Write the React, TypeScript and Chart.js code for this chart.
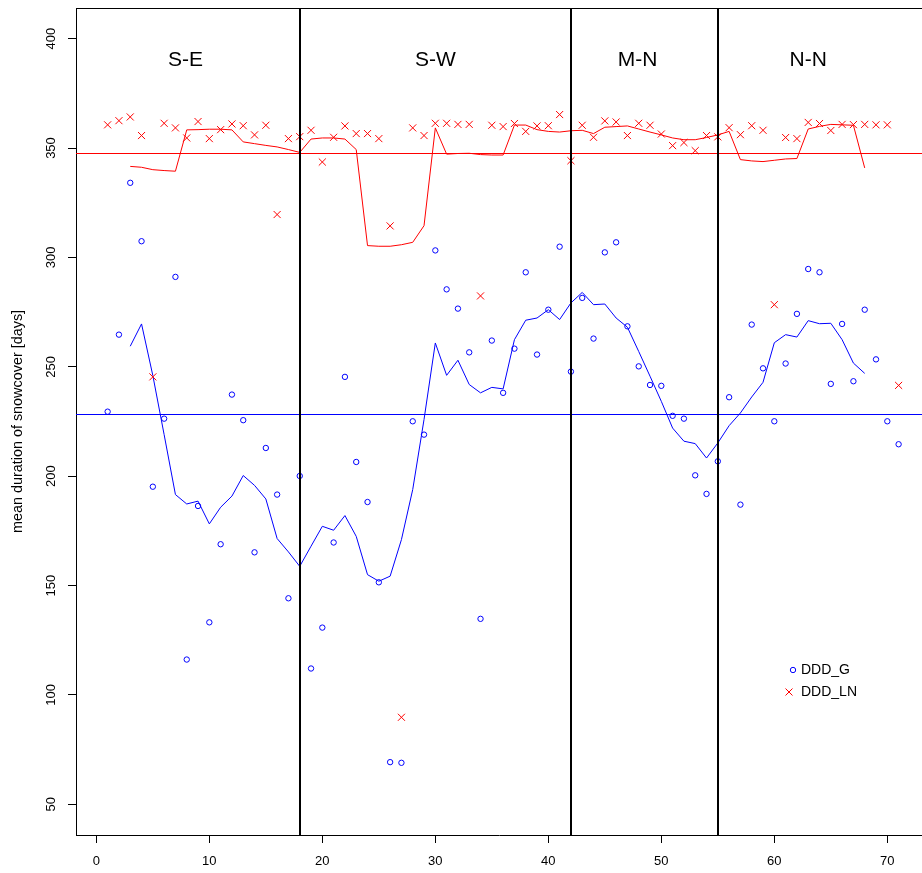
import React, { useEffect, useRef } from 'react';
import { Chart, registerables } from 'chart.js';

Chart.register(...registerables);

// Station index (x)
const stations = [
  1, 2, 3, 4, 5, 6, 7, 8, 9, 10, 11, 12, 13, 14, 15, 16, 17, 18, 19, 20,
  21, 22, 23, 24, 25, 26, 27, 28, 29, 30, 31, 32, 33, 34, 35, 36, 37, 38, 39, 40,
  41, 42, 43, 44, 45, 46, 47, 48, 49, 50, 51, 52, 53, 54, 55, 56, 57, 58, 59, 60,
  61, 62, 63, 64, 65, 66, 67, 68, 69, 70, 71,
];

// DDD_G values (blue circles)
const dddG = [
  229.5, 264.7, 334.1, 307.4, 195.2, 226.3, 291.1, 116.2, 186.4, 133.2,
  168.9, 237.3, 225.6, 165.2, 212.9, 191.6, 144.2, 200.1, 112.1, 130.8,
  169.7, 245.4, 206.5, 188.2, 151.5, 69.3, 69.0, 225.1, 219.0, 303.2,
  285.4, 276.6, 256.6, 134.8, 262.0, 238.1, 258.3, 293.2, 255.6, 276.1,
  304.9, 247.8, 281.5, 262.9, 302.3, 306.9, 268.5, 250.2, 241.7, 241.3,
  227.6, 226.3, 200.4, 191.9, 206.8, 236.1, 187.0, 269.3, 249.3, 225.1,
  251.5, 274.2, 294.7, 293.2, 242.2, 269.6, 243.4, 276.1, 253.4, 225.1,
  214.6,
];

// DDD_LN values (red crosses)
const dddLN = [
  360.6, 362.5, 364.2, 355.7, 245.4, 361.3, 359.2, 354.6, 362.1, 354.3,
  358.4, 361.0, 360.2, 356.0, 360.4, 319.6, 354.3, 355.2, 358.1, 343.6,
  354.9, 360.1, 356.6, 356.6, 354.3, 314.4, 89.8, 359.2, 355.7, 361.3,
  361.3, 360.8, 360.8, 282.4, 360.4, 359.8, 361.2, 357.6, 360.1, 360.2,
  365.3, 344.2, 360.4, 354.9, 362.4, 361.9, 355.7, 361.3, 360.4, 356.4,
  351.1, 352.5, 348.8, 355.7, 355.1, 359.3, 356.1, 360.2, 358.1, 278.4,
  354.8, 354.3, 361.7, 361.2, 358.0, 360.8, 360.7, 360.8, 360.6, 360.6,
  241.5,
];

// Smoothed curves, stations 3..68
const smoothStations = [
  3, 4, 5, 6, 7, 8, 9, 10, 11, 12, 13, 14, 15, 16, 17, 18, 19, 20, 21, 22,
  23, 24, 25, 26, 27, 28, 29, 30, 31, 32, 33, 34, 35, 36, 37, 38, 39, 40, 41, 42,
  43, 44, 45, 46, 47, 48, 49, 50, 51, 52, 53, 54, 55, 56, 57, 58, 59, 60, 61, 62,
  63, 64, 65, 66, 67, 68,
];

const smoothG = [
  259.4, 269.6, 246.0, 219.0, 191.6, 187.3, 188.6, 178.2, 185.8, 190.9,
  200.3, 195.8, 189.6, 171.5, 165.4, 158.8, 168.0, 177.1, 175.3, 182.0,
  172.5, 155.0, 152.0, 154.3, 171.0, 193.9, 225.9, 260.9, 246.1, 253.0,
  241.9, 238.1, 240.6, 239.9, 262.4, 271.3, 272.3, 276.1, 271.6, 279.2,
  284.0, 278.4, 278.7, 272.3, 268.1, 257.0, 245.7, 234.2, 222.0, 216.0,
  214.9, 208.3, 215.2, 223.1, 228.9, 236.2, 242.9, 261.0, 264.7, 263.6,
  271.1, 269.7, 269.9, 262.4, 251.7, 247.0,
];

const smoothLN = [
  341.6, 341.2, 340.1, 339.7, 339.4, 358.3, 358.4, 358.6, 358.6, 358.3,
  352.8, 352.0, 351.2, 350.5, 349.3, 348.0, 354.1, 354.6, 354.6, 354.1,
  349.3, 305.4, 305.1, 305.1, 305.8, 306.9, 314.5, 359.2, 347.2, 347.5,
  347.6, 347.0, 346.8, 346.8, 360.5, 360.5, 358.4, 357.6, 357.3, 357.9,
  358.1, 356.6, 359.5, 359.8, 360.1, 358.7, 357.3, 356.0, 354.6, 353.8,
  353.8, 354.8, 356.0, 357.6, 344.7, 344.1, 343.8, 344.4, 345.0, 345.2,
  358.7, 359.9, 360.8, 360.6, 360.4, 340.9,
];

// Means (horizontal lines)
const meanG = 228.5;
const meanLN = 347.7;

// Region boundaries and labels
const regionBounds = [18, 42, 55];
const regionNames = ['S-E', 'S-W', 'M-N', 'N-N'];
const regionLabelX = [7.9, 30, 47.9, 63];
const regionLabelY = 390;

// Axis ticks
const xTicks = [0, 10, 20, 30, 40, 50, 60, 70];
const yTicks = [50, 100, 150, 200, 250, 300, 350, 400];

const yTitle = 'mean duration of snowcover [days]';
const legendLabels = ['DDD_G', 'DDD_LN'];

const FONT = "'Liberation Sans', Arial, Helvetica, sans-serif";
const BLUE = '#0000ff';
const RED = '#ff0000';

const overlayPlugin = {
  id: 'overlay',
  afterDatasetsDraw(chart: any) {
    const { ctx, chartArea, scales } = chart;
    const xs = scales.x;
    const ys = scales.y;
    ctx.save();
    ctx.lineWidth = 1;
    const hl = (v: number, c: string) => {
      const y = Math.round(ys.getPixelForValue(v)) + 0.5;
      ctx.strokeStyle = c;
      ctx.beginPath();
      ctx.moveTo(chartArea.left, y);
      ctx.lineTo(chartArea.right, y);
      ctx.stroke();
    };
    hl(meanG, BLUE);
    hl(meanLN, RED);
    ctx.strokeStyle = '#000';
    ctx.lineWidth = 2;
    regionBounds.forEach((b) => {
      const x = Math.round(xs.getPixelForValue(b));
      ctx.beginPath();
      ctx.moveTo(x, chartArea.top);
      ctx.lineTo(x, chartArea.bottom);
      ctx.stroke();
    });
    ctx.fillStyle = '#000';
    ctx.font = `21px ${FONT}`;
    ctx.textAlign = 'center';
    ctx.textBaseline = 'middle';
    regionNames.forEach((n, i) => {
      ctx.fillText(n, xs.getPixelForValue(regionLabelX[i]), ys.getPixelForValue(regionLabelY));
    });
    ctx.lineWidth = 1;
    ctx.strokeStyle = '#000';
    ctx.beginPath();
    ctx.moveTo(chartArea.left, Math.round(chartArea.top) + 0.5);
    ctx.lineTo(chartArea.right, Math.round(chartArea.top) + 0.5);
    ctx.stroke();
    const lx = 791;
    const ly1 = 670;
    const ly2 = 692;
    ctx.strokeStyle = BLUE;
    ctx.beginPath();
    ctx.arc(lx + 2, ly1, 2.7, 0, Math.PI * 2);
    ctx.stroke();
    ctx.strokeStyle = RED;
    ctx.beginPath();
    ctx.moveTo(lx - 5.5, ly2 - 3.5);
    ctx.lineTo(lx + 1.5, ly2 + 3.5);
    ctx.moveTo(lx + 1.5, ly2 - 3.5);
    ctx.lineTo(lx - 5.5, ly2 + 3.5);
    ctx.stroke();
    ctx.fillStyle = '#000';
    ctx.font = `14px ${FONT}`;
    ctx.textAlign = 'left';
    ctx.textBaseline = 'middle';
    ctx.fillText(legendLabels[0], 801, ly1);
    ctx.fillText(legendLabels[1], 801, ly2);
    ctx.restore();
  },
  afterDraw(chart: any) {
    const { ctx, chartArea, scales } = chart;
    const xs = scales.x;
    const ys = scales.y;
    ctx.save();
    ctx.fillStyle = '#000';
    ctx.font = `13px ${FONT}`;
    ctx.textAlign = 'center';
    ctx.textBaseline = 'middle';
    xTicks.forEach((t) => {
      ctx.fillText(String(t), xs.getPixelForValue(t), chartArea.bottom + 26);
    });
    yTicks.forEach((t) => {
      ctx.save();
      ctx.translate(51, ys.getPixelForValue(t));
      ctx.rotate(-Math.PI / 2);
      ctx.fillText(String(t), 0, 0);
      ctx.restore();
    });
    ctx.font = `14.4px ${FONT}`;
    ctx.save();
    ctx.translate(18, (chartArea.top + chartArea.bottom) / 2);
    ctx.rotate(-Math.PI / 2);
    ctx.fillText(yTitle, 0, 0);
    ctx.restore();
    ctx.restore();
  },
};

export default function App() {
  const canvasRef = useRef<HTMLCanvasElement | null>(null);

  useEffect(() => {
    const canvas = canvasRef.current;
    if (!canvas) return;
    const ptsG = stations.map((s, i) => ({ x: s, y: dddG[i] }));
    const ptsLN = stations.map((s, i) => ({ x: s, y: dddLN[i] }));
    const lineG = smoothStations.map((s, i) => ({ x: s, y: smoothG[i] }));
    const lineLN = smoothStations.map((s, i) => ({ x: s, y: smoothLN[i] }));

    const chart = new Chart(canvas, {
      type: 'scatter',
      data: {
        datasets: [
          {
            label: legendLabels[0],
            data: ptsG,
            showLine: false,
            pointStyle: 'circle',
            pointRadius: 2.7,
            pointBorderWidth: 1,
            pointBorderColor: BLUE,
            pointBackgroundColor: 'rgba(0,0,0,0)',
          },
          {
            label: legendLabels[1],
            data: ptsLN,
            showLine: false,
            pointStyle: 'crossRot',
            pointRadius: 5,
            pointBorderWidth: 1,
            pointBorderColor: RED,
            pointBackgroundColor: RED,
          },
          {
            label: 'smooth G',
            data: lineG,
            showLine: true,
            borderColor: BLUE,
            borderWidth: 1,
            pointRadius: 0,
            tension: 0,
            fill: false,
          },
          {
            label: 'smooth LN',
            data: lineLN,
            showLine: true,
            borderColor: RED,
            borderWidth: 1,
            pointRadius: 0,
            tension: 0,
            fill: false,
          },
        ],
      },
      options: {
        responsive: false,
        animation: false,
        layout: { padding: { top: 8, left: 0, right: 0, bottom: 0 } },
        plugins: {
          legend: { display: false },
          tooltip: { enabled: false },
        },
        scales: {
          x: {
            type: 'linear',
            min: -1.8,
            max: 73.07,
            afterFit: (scale: any) => {
              scale.height = 38;
            },
            afterBuildTicks: (scale: any) => {
              scale.ticks = xTicks.map((v) => ({ value: v }));
            },
            ticks: {
              display: false,
              includeBounds: false,
              stepSize: 10,
            },
            grid: {
              display: true,
              drawOnChartArea: false,
              drawTicks: true,
              tickLength: 8,
              color: '#000',
              lineWidth: 1,
            },
            border: { display: true, color: '#000', width: 1 },
          },
          y: {
            type: 'linear',
            min: 36,
            max: 414,
            afterFit: (scale: any) => {
              scale.width = 76;
            },
            afterBuildTicks: (scale: any) => {
              scale.ticks = yTicks.map((v) => ({ value: v }));
            },
            ticks: {
              display: false,
              includeBounds: false,
              stepSize: 50,
            },
            grid: {
              display: true,
              drawOnChartArea: false,
              drawTicks: true,
              tickLength: 8,
              color: '#000',
              lineWidth: 1,
            },
            border: { display: true, color: '#000', width: 1 },
          },
        },
      },
      plugins: [overlayPlugin],
    } as any);

    return () => {
      chart.destroy();
    };
  }, []);

  return (
    <div
      style={{
        position: 'absolute',
        left: 0,
        top: 0,
        width: 922,
        height: 873,
        overflow: 'hidden',
        background: '#fff',
      }}
    >
      <canvas ref={canvasRef} width={928} height={873} style={{ display: 'block' }} />
    </div>
  );
}
